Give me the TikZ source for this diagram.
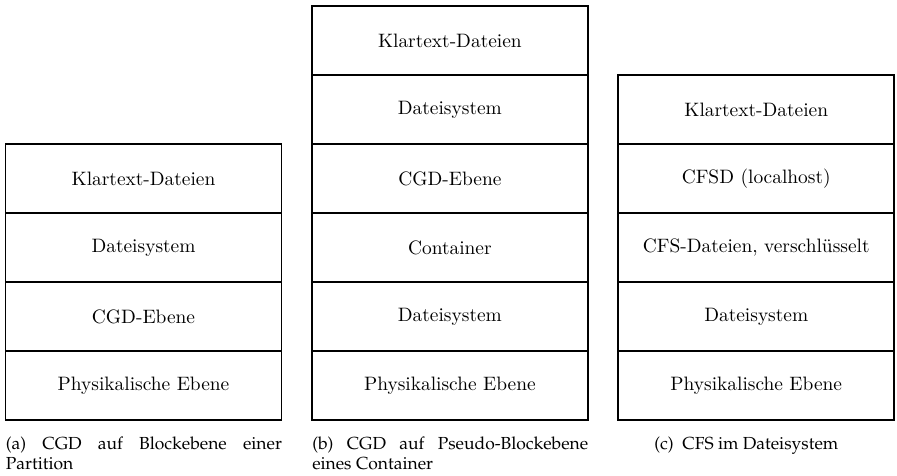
\documentclass[tikz,border=0pt]{standalone}
\usetikzlibrary{positioning}
\newcommand\capfont{\fontencoding{OT1}\fontfamily{ppl}\fontsize{9}{10}\selectfont}
\tikzset{layer/.style={draw, thick, minimum width=5cm, minimum height=1.25cm,
    inner sep=0pt, outer sep=0pt},
  subcap/.style={text width=5cm, align=justify, inner sep=0pt,
    font=\capfont, execute at begin node={\hyphenpenalty10000\relax}}
}

\begin{document}
\begin{tikzpicture}
  \useasboundingbox (0,0) rectangle (16.25,8.61);
  % (a) Blockebene
  \node[layer, anchor=north west] (a1) at (0.1,6) {Klartext-Dateien};
  \node[layer, below=0pt of a1] (a2) {Dateisystem};
  \node[layer, below=0pt of a2] (a3) {CGD-Ebene};
  \node[layer, below=0pt of a3] (a4) {Physikalische Ebene};
  % (b) Pseudo-Blockebene
  \node[layer, anchor=north west] (b1) at (5.65,8.5) {Klartext-Dateien};
  \node[layer, below=0pt of b1] (b2) {Dateisystem};
  \node[layer, below=0pt of b2] (b3) {CGD-Ebene};
  \node[layer, below=0pt of b3] (b4) {Container};
  \node[layer, below=0pt of b4] (b5) {Dateisystem};
  \node[layer, below=0pt of b5] (b6) {Physikalische Ebene};
  % (c) CFS
  \node[layer, anchor=north west] (c1) at (11.2,7.25) {Klartext-Dateien};
  \node[layer, below=0pt of c1] (c2) {CFSD (localhost)};
  \node[layer, below=0pt of c2] (c3) {CFS-Dateien, verschlüsselt};
  \node[layer, below=0pt of c3] (c4) {Dateisystem};
  \node[layer, below=0pt of c4] (c5) {Physikalische Ebene};
  % Unterschriften
  \node[subcap, anchor=north west] (capa) at (0.1,0.7)
    {(a) CGD auf Blockebene einer Partition};
  \node[subcap, anchor=north west] (capb) at (5.65,0.7)
    {(b) CGD auf Pseudo-Blockebene eines Container};
  \node[inner sep=0pt, font=\capfont, anchor=north] (capc) at (13.52,0.7)
    {(c)\ \ CFS im Dateisystem};
\end{tikzpicture}
\end{document}
